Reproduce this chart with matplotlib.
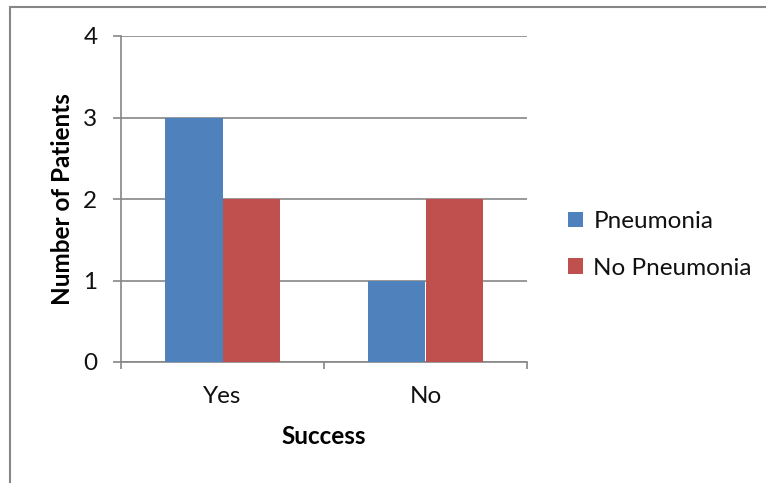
import numpy as np
import matplotlib.pyplot as plt
from matplotlib.patches import Rectangle

categories = ['Yes', 'No']
pneumonia = [3, 1]
no_pneumonia = [2, 2]
series_names = ['Pneumonia', 'No Pneumonia']
y_ticks = [0, 1, 2, 3, 4]

blue = '#4F81BD'
red = '#C0504D'
grey = '#868686'

plt.rcParams['font.family'] = ['Lato', 'DejaVu Sans']
plt.rcParams['text.color'] = '#111111'
fs = 17.5

fig = plt.figure(figsize=(7.66, 4.83), dpi=100)
# chart area border (cropped on the right and bottom like the original)
fig.patches.append(Rectangle((9.5 / 766, -0.1), 1.2, 1 - 6.5 / 483 + 0.1,
                             transform=fig.transFigure, fill=False,
                             edgecolor=grey, linewidth=1.5))

ax = fig.add_axes([121 / 766, 1 - 362 / 483, (527 - 121) / 766, (362 - 36) / 483])

x = np.arange(len(categories))
w = 0.2857
ax.bar(x - w / 2, pneumonia, w, color=blue, label=series_names[0], zorder=3)
ax.bar(x + w / 2, no_pneumonia, w, color=red, label=series_names[1], zorder=3)

ax.set_xlim(-0.5, len(categories) - 0.5)
ax.set_ylim(0, 4)
ax.set_yticks(y_ticks)
ax.set_xticks(x)
ax.set_xticklabels(categories)
ax.set_xticks(np.arange(len(categories) + 1) - 0.5, minor=True)
ax.tick_params(axis='x', which='major', length=0, pad=17, labelsize=fs, labelcolor='#111111')
ax.tick_params(axis='x', which='minor', length=5, color=grey, width=1.2)
ax.tick_params(axis='y', length=6, color=grey, width=1.2, labelsize=fs, pad=11,
               labelcolor='#111111')

ax.grid(axis='y', color=grey, linewidth=1.2, zorder=0)
for s in ['top', 'right']:
    ax.spines[s].set_visible(False)
for s in ['left', 'bottom']:
    ax.spines[s].set_color(grey)
    ax.spines[s].set_linewidth(1.2)

ax.set_ylabel('Number of Patients', fontsize=fs, fontweight='bold', labelpad=7)
ax.set_xlabel('Success', fontsize=fs, fontweight='bold', labelpad=13)

fig.legend(loc='upper left', bbox_to_anchor=(568 / 766, 1 - 211 / 483), frameon=False,
           fontsize=fs, handlelength=0.62, handleheight=0.62,
           handletextpad=0.42, labelspacing=1.05, borderaxespad=0, borderpad=0)

fig.savefig('out.png', dpi=100)
